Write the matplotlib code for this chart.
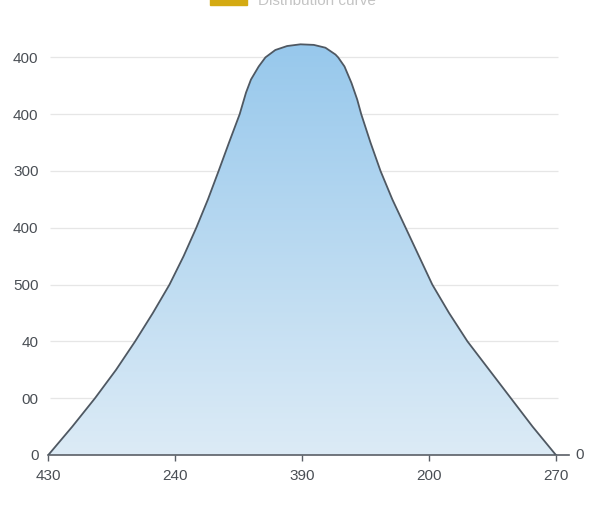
import numpy as np
import matplotlib
matplotlib.use("Agg")
import matplotlib.pyplot as plt
from matplotlib.colors import LinearSegmentedColormap
from matplotlib.patches import Rectangle

plt.rcParams["font.family"] = ["Liberation Sans", "DejaVu Sans"]

INK = "#4a4f55"; LINE = "#4f5862"; GRID = "#e6e6e6"
FILL_TOP = "#97c8ec"; FILL_BOT = "#dcebf6"; GOLD = "#d4aa12"

# curve (x in tick units, y in gridline units)
curve_x = [0, 0.189, 0.368, 0.534, 0.684, 0.824, 0.955, 1.066, 1.166, 1.258,
           1.342, 1.424, 1.508, 1.558, 1.597, 1.658, 1.711, 1.789, 1.882, 1.987,
           2.092, 2.184, 2.263, 2.284, 2.334, 2.389, 2.434, 2.466, 2.539, 2.618,
           2.711, 2.816, 2.921, 3.026, 3.158, 3.303, 3.474, 3.645, 3.816, 4.0]
curve_y = [0, 0.5, 1.0, 1.5, 2.0, 2.5, 3.0, 3.5, 4.0, 4.5,
           5.0, 5.5, 6.0, 6.38, 6.61, 6.84, 7.0, 7.13, 7.2, 7.23,
           7.22, 7.17, 7.05, 7.0, 6.84, 6.55, 6.26, 6.0, 5.5, 5.0,
           4.5, 4.0, 3.5, 3.0, 2.5, 2.0, 1.5, 1.0, 0.5, 0]

x_ticks = [0, 1, 2, 3, 4]
x_labels = ["430", "240", "390", "200", "270"]
y_ticks = [0, 1, 2, 3, 4, 5, 6, 7]
y_labels = ["0", "00", "40", "500", "400", "300", "400", "400"]
legend_label = "Distribution curve"

fig = plt.figure(figsize=(6, 5.12), dpi=100)
ax = fig.add_axes([48.3 / 600, 57 / 512, 520.3 / 600, 431.7 / 512])
ax.set_xlim(0, 4.1)
ax.set_ylim(0, 7.6)

for yv in y_ticks[1:]:
    ax.hlines(yv, 0.015, 4.02, color=GRID, lw=0.9, zorder=0)

# gradient fill under the curve
grad = LinearSegmentedColormap.from_list("g", [FILL_BOT, FILL_TOP])
poly = ax.fill_between(curve_x, curve_y, 0, color="none", lw=0)
img = ax.imshow(np.linspace(0, 1, 256).reshape(-1, 1), cmap=grad, origin="lower",
                extent=(0, 4.1, 0, 7.25), aspect="auto", zorder=1)
img.set_clip_path(poly.get_paths()[0], transform=ax.transData)
ax.plot(curve_x, curve_y, color=LINE, lw=1.3, zorder=3,
        solid_joinstyle="round", antialiased=True)

for s in ["top", "right", "left"]:
    ax.spines[s].set_visible(False)
ax.spines["bottom"].set_color("#5a5f66")
ax.spines["bottom"].set_linewidth(1.2)

ax.set_xticks(x_ticks, x_labels)
ax.set_yticks(y_ticks, y_labels)
ax.tick_params(axis="x", length=4, width=1, color="#5a5f66", pad=6,
               labelsize=11, labelcolor=INK)
ax.tick_params(axis="y", length=0, pad=7, labelsize=11, labelcolor=INK)
ax.text(4.19, 0, "0", ha="center", va="center", fontsize=11, color=INK,
        clip_on=False)

# legend entry cut off at the top edge
fig.patches.append(Rectangle((210 / 600, 1 - 5 / 512), 37 / 600, 8 / 512,
                             transform=fig.transFigure, color=GOLD))
fig.text(258 / 600, 1 - 1 / 512, legend_label, ha="left", va="center",
         fontsize=11, color="#c4c4c4")

fig.savefig("out.png", dpi=100)
